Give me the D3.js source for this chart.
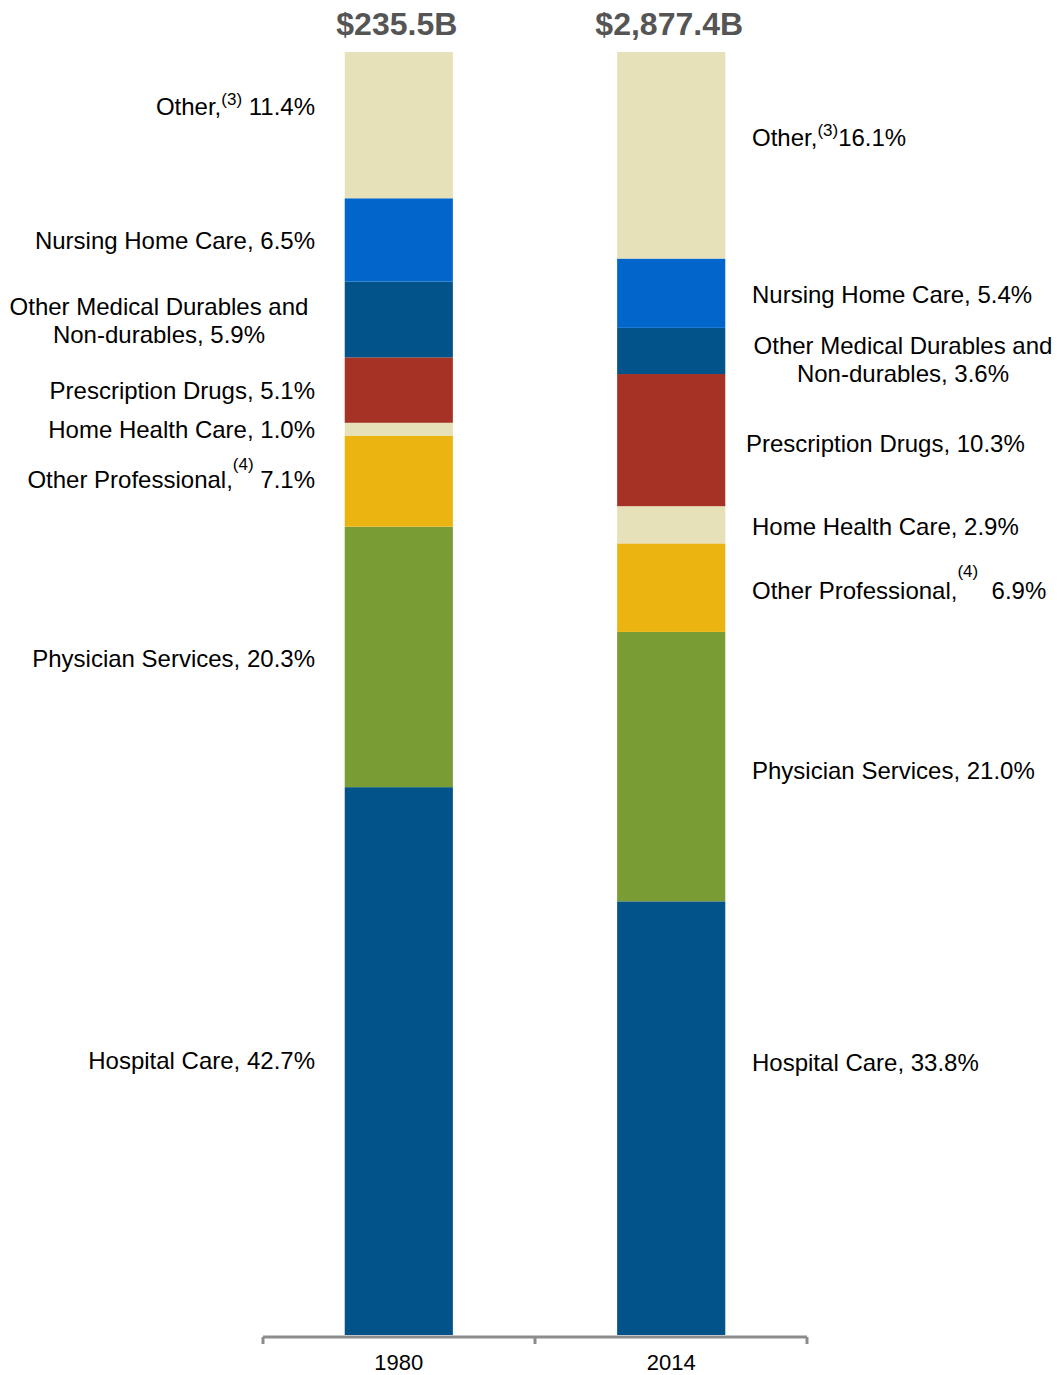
<!DOCTYPE html>
<html>
<head>
<meta charset="utf-8">
<script src="https://cdn.jsdelivr.net/npm/d3@7"></script>
<style>
  body { margin: 0; background: #fff; }
  text { font-family: "Liberation Sans", Arial, sans-serif; white-space: pre; }
</style>
</head>
<body>
<div id="chart"></div>
<script>
// data
var years = ["1980", "2014"];
var totals = ["$235.5B", "$2,877.4B"];
var categories = ["Hospital Care", "Physician Services", "Other Professional", "Home Health Care",
    "Prescription Drugs", "Other Medical Durables and Non-durables", "Nursing Home Care", "Other"];
var share1980 = [42.7, 20.3, 7.1, 1.0, 5.1, 5.9, 6.5, 11.4];
var share2014 = [33.8, 21.0, 6.9, 2.9, 10.3, 3.6, 5.4, 16.1];
var footnotes = ["", "", "(4)", "", "", "", "", "(3)"];

var colors = ["#02538a", "#7a9c35", "#ebb411", "#e6e1b8", "#a63226", "#02538a", "#0066cc", "#e6e1b8"];

var W = 1057, H = 1375;
var svg = d3.select("#chart").append("svg").attr("width", W).attr("height", H);

var x = d3.scaleBand().domain(years).range([263, 807]).paddingInner(0.603).paddingOuter(0.3);
var y = d3.scaleLinear().domain([0, 100]).range([1335, 52]);

var shares = [share1980, share2014];

// stacked bars
years.forEach(function (yr, j) {
    var cum = 0;
    var segs = shares[j].map(function (v, i) {
        var s = {i: i, y0: cum, y1: cum + v, v: v};
        cum += v;
        return s;
    });
    svg.append("g").selectAll("rect").data(segs).enter().append("rect")
        .attr("x", x(yr))
        .attr("width", x.bandwidth())
        .attr("y", function (d) { return y(d.y1); })
        .attr("height", function (d) { return y(d.y0) - y(d.y1); })
        .attr("fill", function (d) { return colors[d.i]; });

    // totals on top
    svg.append("text")
        .attr("x", x(yr) + x.bandwidth() / 2 - 2)
        .attr("y", 35)
        .attr("text-anchor", "middle")
        .style("font-size", "32px")
        .style("font-weight", "bold")
        .style("fill", "#555")
        .text(totals[j]);
});

// label layout tweaks (px) relative to segment middle
var nudge = [[0, 2, -1, 1, 1, 1, 1, -18], [-55, 4, 3, 2, 4, 9, 2, -17]];
var supGap = [["", "", " ", "", "", "", "", " "], ["", "", "  ", "", "", "", "", ""]];
var supRise = [[0, 0, 18, 0, 0, 0, 0, 10], [0, 0, 22, 0, 0, 0, 0, 10]];

years.forEach(function (yr, j) {
    var cum = 0;
    shares[j].forEach(function (v, i) {
        var mid = (y(cum) + y(cum + v)) / 2 + nudge[j][i];
        cum += v;
        var name = categories[i];
        var t = svg.append("text").style("font-size", "24px").style("fill", "#000");
        var pct = v.toFixed(1) + "%";

        if (i == 5) {
            // two line label, centered
            var cx = j == 0 ? 159 : 903;
            t.attr("text-anchor", "middle").attr("x", cx).attr("y", mid - 6);
            t.append("tspan").attr("x", cx).text("Other Medical Durables and");
            t.append("tspan").attr("x", cx).attr("dy", 28).text("Non-durables, " + pct);
            return;
        }

        var lx = j == 0 ? 315 : (i == 4 ? 746 : 752);
        t.attr("x", lx).attr("y", mid + 8).attr("text-anchor", j == 0 ? "end" : "start");
        if (footnotes[i]) {
            t.append("tspan").text(name + ",");
            t.append("tspan").attr("dy", -supRise[j][i]).style("font-size", "17px").text(footnotes[i]);
            t.append("tspan").attr("dy", supRise[j][i]).text(supGap[j][i] + pct);
        } else {
            t.text(name + ", " + pct);
        }
    });
});

// axis: baseline with ticks at band edges
var axisY = 1337;
var r = x.range();
svg.append("line")
    .attr("x1", r[0]).attr("x2", r[1])
    .attr("y1", axisY).attr("y2", axisY)
    .attr("stroke", "#8c8c8c").attr("stroke-width", 3);
var edges = [r[0], (r[0] + r[1]) / 2, r[1]];
svg.selectAll(".tick").data(edges).enter().append("line")
    .attr("x1", function (d) { return d; }).attr("x2", function (d) { return d; })
    .attr("y1", axisY).attr("y2", axisY + 7)
    .attr("stroke", "#8c8c8c").attr("stroke-width", 3);

svg.selectAll(".yr").data(years).enter().append("text")
    .attr("x", function (d) { return x(d) + x.bandwidth() / 2; })
    .attr("y", 1370)
    .attr("text-anchor", "middle")
    .style("font-size", "22px")
    .text(function (d) { return d; });
</script>
</body>
</html>
